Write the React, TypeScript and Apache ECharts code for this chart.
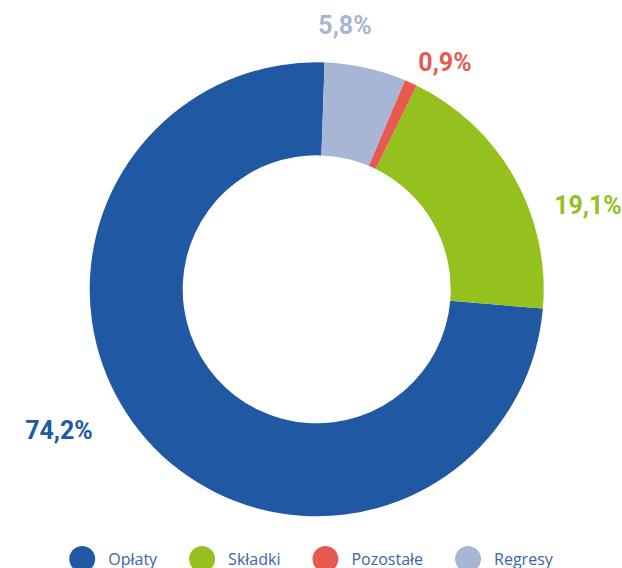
import React, { useEffect, useRef } from "react";
import * as echarts from "echarts";

const categories = ["Opłaty", "Składki", "Pozostałe", "Regresy"];
const shares = [74.2, 19.1, 0.9, 5.8];
const colors = ["#2158a4", "#95c11f", "#e85a4f", "#a7b6d4"];
// label anchor points (layout only)
const labelPos: [number, number][] = [
  [59, 430],
  [588, 205],
  [445, 62],
  [345, 25],
];

export default function App() {
  const ref = useRef<HTMLDivElement>(null);
  useEffect(() => {
    document.body.style.margin = "0";
    const chart = echarts.init(ref.current!, null, { renderer: "svg" });
    chart.setOption({
      animation: false,
      color: colors,
      legend: {
        data: categories,
        left: "center",
        top: 546,
        padding: 0,
        icon: "circle",
        itemWidth: 42,
        itemHeight: 26,
        itemGap: 32,
        textStyle: {
          color: "#3a64a8",
          fontSize: 16,
          fontFamily: "Open Sans",
        },
      },
      series: [
        {
          type: "pie",
          center: [316.7, 289.3],
          radius: [134, 227],
          startAngle: 88,
          clockwise: false,
          avoidLabelOverlap: false,
          label: {
            show: true,
            position: "outside",
            fontFamily: "Roboto",
            fontWeight: "bold",
            fontSize: 25,
            color: "inherit",
            formatter: (p: any) => String(p.value.toFixed(1)).replace(".", ",") + "%",
          },
          labelLine: { show: false },
          labelLayout: (params: any) => {
            const p = labelPos[params.dataIndex];
            return { x: p[0], y: p[1], align: "center", verticalAlign: "middle" };
          },
          itemStyle: { borderWidth: 0 },
          emphasis: { disabled: true },
          data: categories.map((name, i) => ({
            name,
            value: shares[i],
            itemStyle: { color: colors[i] },
            label: { color: colors[i] },
          })),
        },
      ],
    });
    return () => chart.dispose();
  }, []);
  return <div ref={ref} style={{ width: 622, height: 568 }} />;
}
